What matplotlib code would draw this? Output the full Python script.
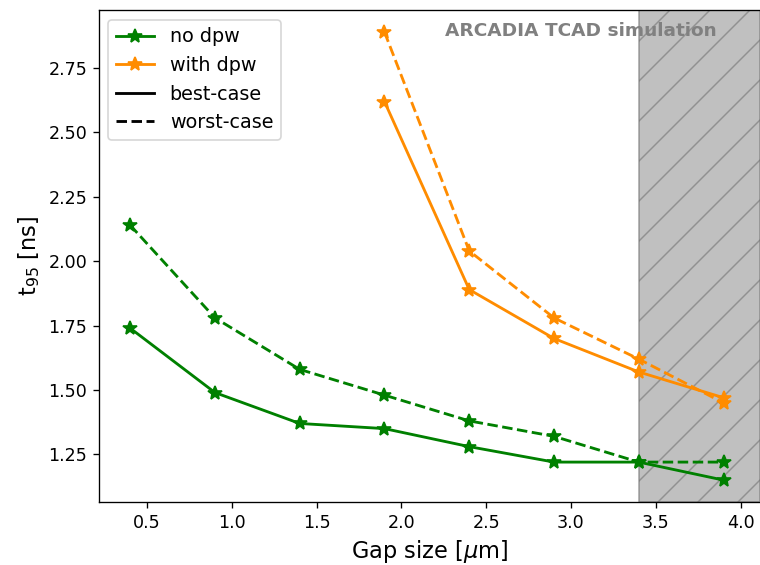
import matplotlib
matplotlib.use("Agg")
import matplotlib.pyplot as plt
from matplotlib.lines import Line2D

# gap sizes [um]
gap = [0.4, 0.9, 1.4, 1.9, 2.4, 2.9, 3.4, 3.9]
gap_dpw = [1.9, 2.4, 2.9, 3.4, 3.9]

# t95 [ns]
nodpw_best = [1.74, 1.49, 1.37, 1.35, 1.28, 1.22, 1.22, 1.15]
nodpw_worst = [2.14, 1.78, 1.58, 1.48, 1.38, 1.32, 1.22, 1.22]
dpw_best = [2.62, 1.89, 1.70, 1.57, 1.47]
dpw_worst = [2.89, 2.04, 1.78, 1.62, 1.45]

plt.rcParams['hatch.linewidth'] = 0.9

fig = plt.figure(figsize=(760 / 120, 565 / 120), dpi=120)
ax = fig.add_axes([0.130, 0.1115, 0.870, 0.8705])

ax.plot(gap, nodpw_best, '*-', color='green', ms=8.5, lw=1.7)
ax.plot(gap, nodpw_worst, '*--', color='green', ms=8.5, lw=1.7)
ax.plot(gap_dpw, dpw_best, '*-', color='darkorange', ms=8.5, lw=1.7)
ax.plot(gap_dpw, dpw_worst, '*--', color='darkorange', ms=8.5, lw=1.7)

ax.set_xlim(0.215, 4.115)
ax.set_ylim(1.065, 2.975)

# excluded region
ax.axvspan(3.4, 4.115, facecolor='silver', edgecolor=(0.45, 0.45, 0.45, 0.6),
           hatch='/', lw=1.0, zorder=0)

ax.text(0.935, 0.975, "ARCADIA TCAD simulation", transform=ax.transAxes,
        ha='right', va='top', fontsize=11.1, fontweight='bold', color='gray')

handles = [
    Line2D([], [], color='green', marker='*', ms=8.5, lw=1.7, label='no dpw'),
    Line2D([], [], color='darkorange', marker='*', ms=8.5, lw=1.7, label='with dpw'),
    Line2D([], [], color='black', lw=1.7, label='best-case'),
    Line2D([], [], color='black', ls='--', lw=1.7, label='worst-case'),
]
ax.legend(handles=handles, loc='upper left', fontsize=11.5)

ax.set_xlabel(r"Gap size [$\mu$m]", fontsize=13.5)
ax.set_ylabel(r"t$_{95}$ [ns]", fontsize=13.5)
ax.tick_params(labelsize=10.5)
ax.spines['right'].set_visible(False)

fig.savefig("out.png", dpi=120)
